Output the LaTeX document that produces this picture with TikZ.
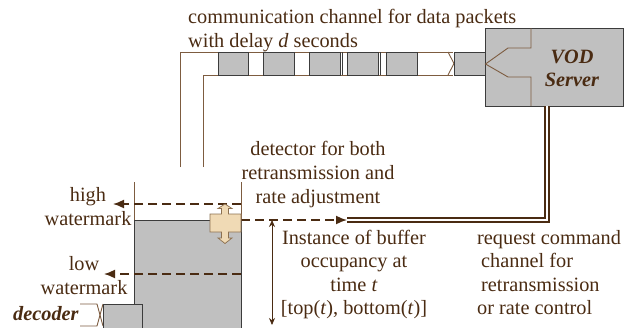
\documentclass[tikz,border=0pt]{standalone}
\usepackage{fontspec}
\setmainfont{Liberation Serif}
\usetikzlibrary{arrows.meta}
\definecolor{ink}{HTML}{4A2B12}
\definecolor{wire}{HTML}{7D5C40}
\definecolor{pkt}{HTML}{C0C0C0}
\definecolor{edgegray}{HTML}{3C3C3C}
\definecolor{tanfill}{HTML}{F0DAB5}
\definecolor{tanedge}{HTML}{8C7050}
\begin{document}
\begin{tikzpicture}[x=1pt,y=-1pt,
  lbl/.style={text=ink, font=\fontsize{20.3}{24}\selectfont, inner sep=0pt},
  tightlbl/.style={lbl, font=\fontsize{20.3}{23.5}\selectfont},
  boldlbl/.style={lbl, font=\fontsize{20.3}{23}\selectfont\bfseries\itshape},
  wireline/.style={draw=wire, line width=0.9pt},
  packet/.style={fill=pkt, draw=edgegray, line width=0.9pt},
  wmark/.style={draw=ink, line width=1.6pt, dash pattern=on 9pt off 5pt,
    -{Latex[length=11pt,width=9pt]}},
  reqline/.style={draw=ink, line width=2pt, double=white, double distance=2pt, line join=miter},
  span/.style={draw=ink, line width=0.8pt, {Stealth[length=7pt,width=6pt]}-{Stealth[length=7pt,width=6pt]}}
]
\useasboundingbox (0,0) rectangle (635,327);

% data channel walls
\draw[wireline] (180,167) -- (180,52) -- (453,52);
\draw[wireline] (203,167) -- (203,75) -- (453,75);
\draw[wireline] (448,52) -- (454,63.5) -- (448,75);

% packets in transit
\path[packet] (218,52) rectangle (248,75);
\path[packet] (263,52) rectangle (294,75);
\path[packet] (309,52) rectangle (340,75);
\draw[edgegray, line width=0.9pt] (342.5,52) -- (342.5,75);
\path[packet] (347,52) rectangle (378,75);
\draw[edgegray, line width=0.9pt] (380.5,52) -- (380.5,75);
\path[packet] (386,52) rectangle (417,75);
\path[packet] (454,52) rectangle (485,75);

% server
\node[packet, minimum width=138pt, minimum height=78pt, inner sep=0pt] (vod) at (554,67) {};
\draw[wireline] (531,28) -- (531,48) -- (508,48) -- (485.5,64) -- (508,77) -- (531,77) -- (531,106);
\node[boldlbl, align=center, anchor=base] (vodtxt) at (572,86) {VOD\\Server};

% request command channel
\coordinate (reqturn) at (546.5,220);
\coordinate (reqend) at (347,220);
\draw[reqline] (vod.south -| reqturn) -- (reqturn) -- (reqend);

% buffer
\draw[wireline] (134,182) -- (134,327);
\draw[wireline] (241,182) -- (241,327);
\path[fill=pkt, draw=edgegray, line width=0.9pt] (134,332) -- (134,220) -- (241,220) -- (241,332);

% watermarks and detector output
\coordinate (hwR) at (241,204);
\coordinate (hwL) at (113,204);
\coordinate (lwR) at (241,274);
\coordinate (lwL) at (104,274);
\coordinate (det) at (241,220);
\draw[wmark] (hwR) -- (hwL);
\draw[wmark] (lwR) -- (lwL);
\draw[wmark] (det) -- (reqend);

% detector
\path[fill=tanfill, draw=tanedge, line width=0.7pt]
  (225,204) -- (232,208.5) -- (228.5,208.5) -- (228.5,214) -- (241,214) -- (241,232)
  -- (228.5,232) -- (228.5,238) -- (232,238) -- (225,243.5) -- (218,238) -- (221.5,238)
  -- (221.5,232) -- (210,232) -- (210,214) -- (221.5,214) -- (221.5,208.5) -- (218,208.5) -- cycle;

% decoder
\draw[wireline] (80,304) -- (97,304) -- (103,326);
\draw[wireline] (80,326) -- (97,326) -- (103,304);
\path[packet] (103,332) rectangle (142,304);

% buffer occupancy span
\coordinate (occtop) at (272,220);
\coordinate (occbot) at (272,325);
\draw[span] (occtop) -- (occbot);

% labels (base anchor sits on the last line)
\node[lbl, align=left, anchor=base west] (chantxt) at (188,47)
  {communication channel for data packets\\with delay \textit{d} seconds};
\node[lbl, align=center, anchor=base] (dettxt) at (318,203)
  {detector for both\\retransmission and\\rate adjustment};
\node[tightlbl, align=center, anchor=base] (occtxt) at (354,314.5)
  {Instance of buffer\\occupancy at\\time \textit{t}\\{[}top(\textit{t}), bottom(\textit{t})]};
\node[tightlbl, align=left, anchor=base west] (reqtxt) at (477,314.5)
  {request command\\\hspace*{4pt}channel for\\\hspace*{4pt}retransmission\\or rate control};
\node[lbl, align=center, anchor=base] (hightxt) at (88,225) {high\\watermark};
\node[lbl, align=center, anchor=base] (lowtxt) at (84,294) {low\\watermark};
\node[boldlbl, anchor=base west] (dectxt) at (13,320) {decoder};
\end{tikzpicture}
\end{document}
